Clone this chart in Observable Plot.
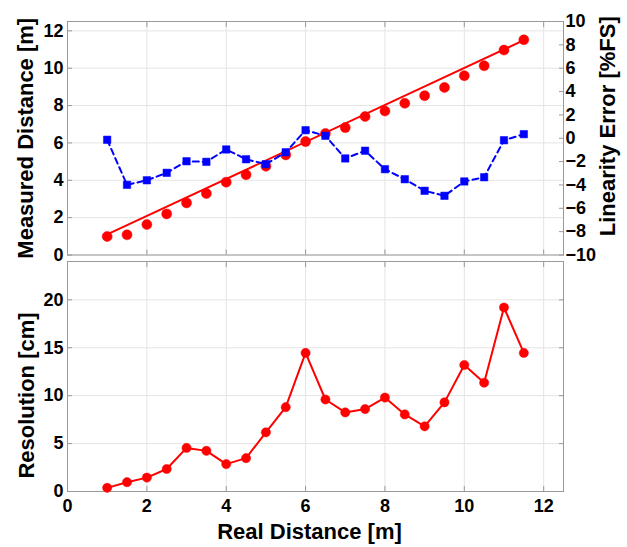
<!DOCTYPE html>
<html>
<head>
<meta charset="utf-8">
<script src="https://cdn.jsdelivr.net/npm/d3@7"></script>
<script src="https://cdn.jsdelivr.net/npm/@observablehq/plot@0.6"></script>
<style>
  body { margin: 0; background: #fff; }
  #chart { position: relative; width: 627px; height: 547px; background: #fff; }
  #chart svg { position: absolute; left: 0; top: 0; }
</style>
</head>
<body>
<div id="chart"></div>
<script>
// ---- data ----
const realDistance = [1, 1.5, 2, 2.5, 3, 3.5, 4, 4.5, 5, 5.5, 6, 6.5, 7, 7.5, 8, 8.5, 9, 9.5, 10, 10.5, 11, 11.5];
const measuredDistance = [0.99, 1.08, 1.63, 2.2, 2.79, 3.29, 3.9, 4.3, 4.75, 5.36, 6.07, 6.5, 6.82, 7.41, 7.71, 8.12, 8.53, 8.97, 9.6, 10.13, 10.97, 11.52];
const linearityError = [-0.13, -3.99, -3.6, -2.96, -1.97, -2.02, -0.96, -1.8, -2.22, -1.2, 0.69, 0.21, -1.73, -1.07, -2.65, -3.51, -4.5, -4.93, -3.7, -3.34, -0.17, 0.35];
const resolution = [0.38, 0.97, 1.45, 2.35, 4.55, 4.24, 2.86, 3.48, 6.17, 8.8, 14.46, 9.6, 8.25, 8.6, 9.8, 8.04, 6.8, 9.3, 13.2, 11.35, 19.2, 14.46];
const fitX = [1, 11.5];
const fitY = [1.1, 11.5];

const xTicks = [0, 2, 4, 6, 8, 10, 12];
const measuredTicks = [0, 2, 4, 6, 8, 10, 12];
const errorTicks = [-10, -8, -6, -4, -2, 0, 2, 4, 6, 8, 10];
const resolutionTicks = [0, 5, 10, 15, 20];

const xLabel = "Real Distance [m]";
const measuredLabel = "Measured Distance [m]";
const errorLabel = "Linearity Error [%FS]";
const resolutionLabel = "Resolution [cm]";

// ---- tables built from arrays ----
const measuredRows = realDistance.map((x, i) => ({x, y: measuredDistance[i]}));
const errorRows = realDistance.map((x, i) => ({x, y: linearityError[i]}));
const resolutionRows = realDistance.map((x, i) => ({x, y: resolution[i]}));
const fitRows = fitX.map((x, i) => ({x, y: fitY[i]}));

// ---- styling ----
const W = 627, H = 547;
const FONT = "'Liberation Sans', Arial, Helvetica, sans-serif";
const AXIS = "#9a9a9a";
const GRID = "#e4e4e4";
const RED = "#ff0000";
const BLUE = "#0000ff";
const base = {
  width: W, height: H, marginLeft: 67, marginRight: 64,
  style: {fontFamily: FONT, fontWeight: "bold", fontSize: "18px", color: "black", background: "transparent", overflow: "visible"}
};
const tickStyle = {stroke: AXIS, fill: "black", fontSize: 18, fontWeight: "bold", label: null};
const blank = () => "";
const title = (t, o) => Plot.text([t], {text: d => d, fontSize: 22, fontWeight: "bold", fill: "black", textAnchor: "middle", lineAnchor: "middle", ...o});

// ---- top panel: measured distance (left axis) ----
const topLeft = Plot.plot({
  ...base, marginTop: 21, marginBottom: H - 254.5,
  x: {domain: [0, 12.5], axis: null},
  y: {domain: [0, 12.5], axis: null},
  marks: [
    Plot.gridX(xTicks, {stroke: GRID, strokeOpacity: 1}),
    Plot.gridY(measuredTicks, {stroke: GRID, strokeOpacity: 1}),
    Plot.frame({stroke: AXIS}),
    Plot.axisY(measuredTicks, {anchor: "left", tickSize: -5, tickPadding: 9, ...tickStyle}),
    Plot.axisX(xTicks, {anchor: "bottom", tickSize: -5, tickFormat: blank, ...tickStyle}),
    Plot.axisX(xTicks, {anchor: "top", tickSize: -5, tickFormat: blank, ...tickStyle}),
    Plot.line(fitRows, {x: "x", y: "y", stroke: RED, strokeWidth: 2}),
    Plot.dot(measuredRows, {x: "x", y: "y", r: 5, fill: RED, stroke: RED, strokeWidth: 0.5}),
    title(measuredLabel, {frameAnchor: "left", dx: -41.5, rotate: -90})
  ]
});

// ---- top panel: linearity error (right axis) ----
const topRight = Plot.plot({
  ...base, marginTop: 21, marginBottom: H - 254.5,
  x: {domain: [0, 12.5], axis: null},
  y: {domain: [-10, 10], axis: null},
  marks: [
    Plot.axisY(errorTicks, {anchor: "right", tickSize: -5, tickPadding: 7, ...tickStyle}),
    Plot.line(errorRows, {x: "x", y: "y", stroke: BLUE, strokeWidth: 2, strokeDasharray: "6,4"}),
    Plot.dot(errorRows, {x: "x", y: "y", symbol: "square", r: 4.2, fill: BLUE, stroke: BLUE, strokeWidth: 0.5}),
    title(errorLabel, {frameAnchor: "right", dx: 44, dy: -12, rotate: -90})
  ]
});

// ---- bottom panel: resolution ----
const bottom = Plot.plot({
  ...base, marginTop: 261, marginBottom: 56,
  x: {domain: [0, 12.5], axis: null},
  y: {domain: [0, 24], axis: null},
  marks: [
    Plot.gridX(xTicks, {stroke: GRID, strokeOpacity: 1}),
    Plot.gridY(resolutionTicks, {stroke: GRID, strokeOpacity: 1}),
    Plot.frame({stroke: AXIS}),
    Plot.axisY(resolutionTicks, {anchor: "left", tickSize: -5, tickPadding: 9, ...tickStyle}),
    Plot.axisY(resolutionTicks, {anchor: "right", tickSize: -5, tickFormat: blank, ...tickStyle}),
    Plot.axisX(xTicks, {anchor: "bottom", tickSize: -5, tickPadding: 13, ...tickStyle}),
    Plot.axisX(xTicks, {anchor: "top", tickSize: -5, tickFormat: blank, ...tickStyle}),
    Plot.line(resolutionRows, {x: "x", y: "y", stroke: RED, strokeWidth: 2}),
    Plot.dot(resolutionRows, {x: "x", y: "y", r: 4.6, fill: RED, stroke: RED, strokeWidth: 0.5}),
    title(resolutionLabel, {frameAnchor: "left", dx: -41, dy: 19, rotate: -90}),
    title(xLabel, {frameAnchor: "bottom", dx: -6, dy: 40})
  ]
});

const chart = document.getElementById("chart");
chart.append(topLeft, bottom, topRight);
</script>
</body>
</html>
